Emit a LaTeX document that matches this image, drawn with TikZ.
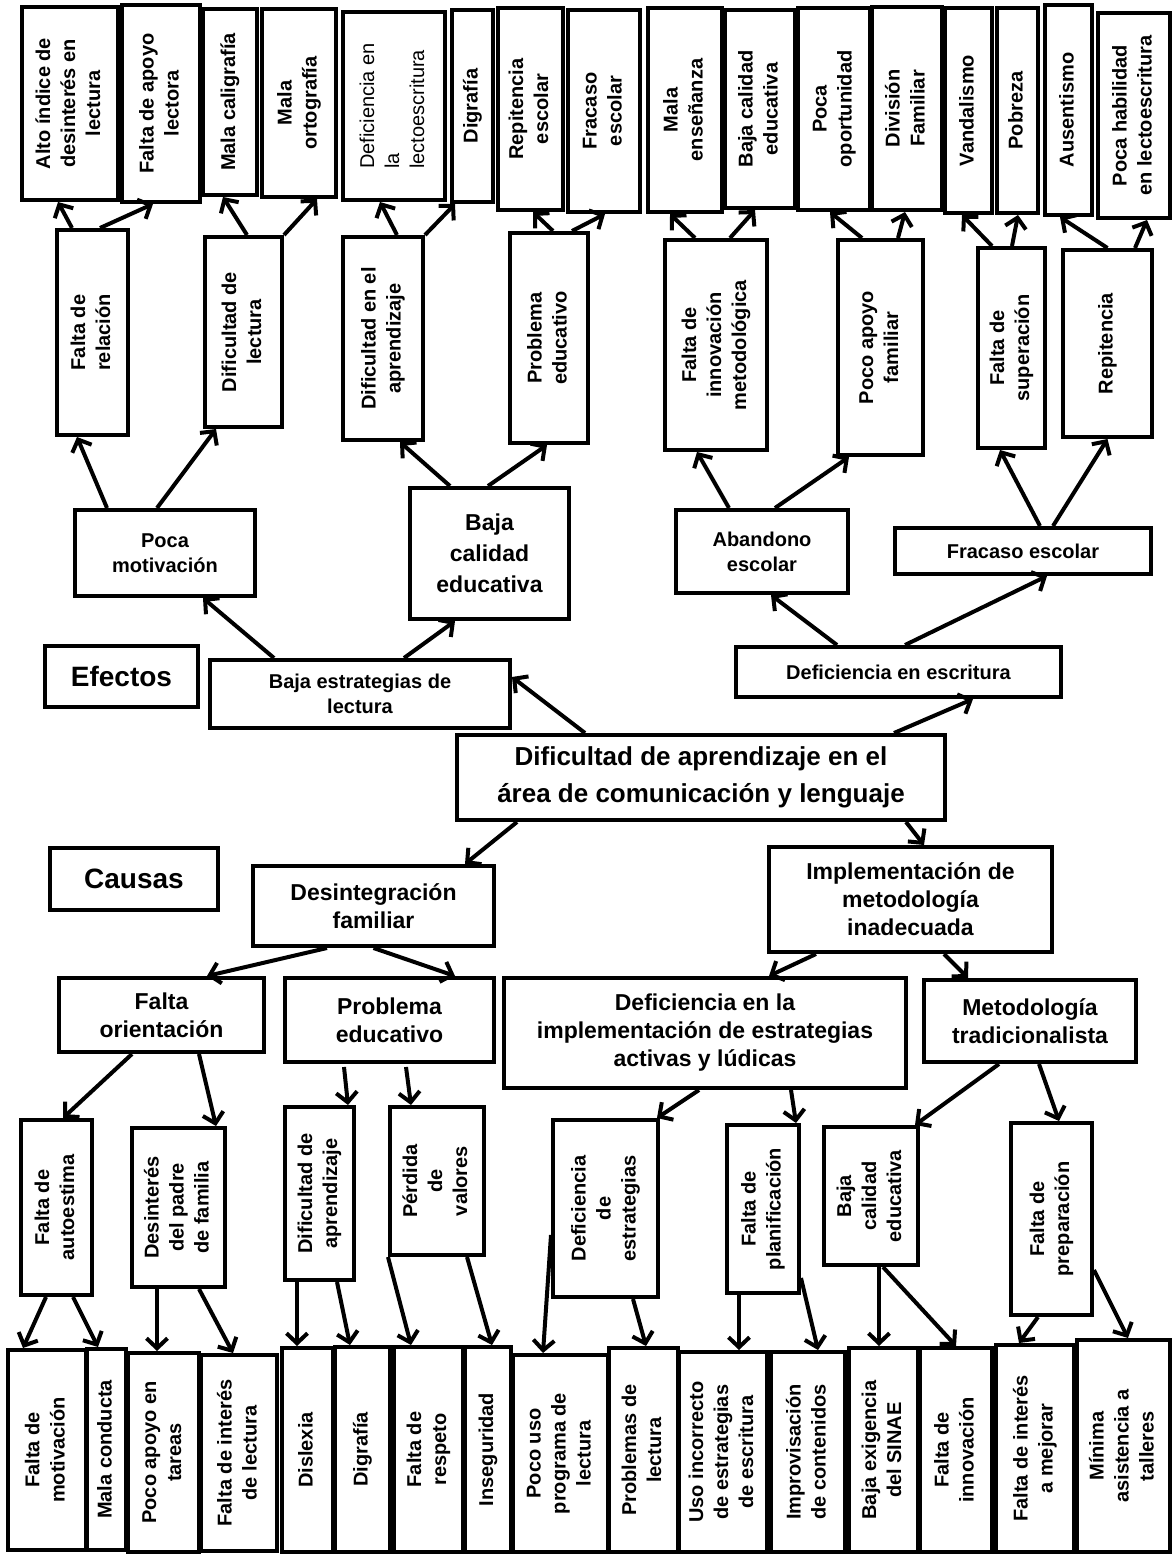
\documentclass[tikz,border=0pt]{standalone}
\usepackage{fontspec}
\setmainfont{Liberation Sans}
\usepackage{graphicx}
\usetikzlibrary{arrows.meta}

\tikzstyle{box}=[draw, line width=4pt, inner sep=0pt, align=center, font=\fontsize{20}{25}\selectfont\bfseries]
\tikzstyle{thinbox}=[box, font=\fontsize{20}{25}\selectfont\mdseries]
\tikzstyle{bigbox}=[box, font=\fontsize{23}{31}\selectfont\bfseries]
\tikzstyle{cbox}=[box, font=\fontsize{23}{28}\selectfont\bfseries]
\tikzstyle{root}=[box, font=\fontsize{26}{37}\selectfont\bfseries]
\tikzstyle{tag}=[box, font=\fontsize{28}{34}\selectfont\bfseries]
\tikzstyle{msg}=[-{Straight Barb[length=10pt, width=21pt]}, line width=4pt]

\newcommand{\vtxt}[1]{\rotatebox{90}{\begin{tabular}{@{}c@{}}#1\end{tabular}}}
\newcommand{\vtxtl}[1]{\rotatebox{90}{\begin{tabular}{@{}l@{}}#1\end{tabular}}}

\begin{document}
\begin{tikzpicture}[x=1pt, y=-1pt]
    \path[use as bounding box, fill=white] (0, 0) rectangle (1173, 1554);

    \node[box, minimum width=96pt, minimum height=193pt] (alto) at (70, 103.5) {\vtxt{Alto índice de\\desinterés en\\lectura}};
    \node[box, minimum width=78pt, minimum height=197pt] (apoyo) at (161, 103.5) {\vtxt{Falta de apoyo\\lectora}};
    \node[box, minimum width=54pt, minimum height=186pt] (caligrafia) at (230, 102) {\vtxt{Mala caligrafía}};
    \node[box, minimum width=74pt, minimum height=188pt] (ortografia) at (299, 103) {\vtxt{Mala\\ortografía}};
    \node[thinbox, minimum width=102pt, minimum height=188pt] (lectoesc) at (394, 106) {\vtxtl{Deficiencia en\\la\\lectoescritura}};
    \node[box, minimum width=41pt, minimum height=192pt] (digrafiaA) at (472.5, 106) {\vtxt{Digrafía}};
    \node[box, minimum width=65pt, minimum height=202pt] (repitenciaA) at (530.5, 109) {\vtxt{Repitencia\\escolar}};
    \node[box, minimum width=72pt, minimum height=202pt] (fracasoA) at (604, 111) {\vtxt{Fracaso\\escolar}};
    \node[box, minimum width=74pt, minimum height=204pt] (ensenanza) at (685, 110) {\vtxt{Mala\\enseñanza}};
    \node[box, minimum width=70pt, minimum height=198pt] (calidadA) at (760, 109) {\vtxt{Baja calidad\\educativa}};
    \node[box, minimum width=72pt, minimum height=202pt] (oportunidad) at (834, 109) {\vtxt{Poca\\oportunidad}};
    \node[box, minimum width=70pt, minimum height=203pt] (division) at (907, 108.5) {\vtxt{División\\Familiar}};
    \node[box, minimum width=47pt, minimum height=205pt] (vandalismo) at (968.5, 110.5) {\vtxt{Vandalismo}};
    \node[box, minimum width=41pt, minimum height=205pt] (pobreza) at (1017.5, 110.5) {\vtxt{Pobreza}};
    \node[box, minimum width=47pt, minimum height=210pt] (ausentismo) at (1068.5, 110) {\vtxt{Ausentismo}};
    \node[box, minimum width=72pt, minimum height=205pt] (habilidad) at (1134, 115.5) {\vtxt{Poca habilidad\\en lectoescritura}};

    \node[box, minimum width=71pt, minimum height=205pt] (relacion) at (92.5, 332.5) {\vtxt{Falta de\\relación}};
    \node[box, minimum width=77pt, minimum height=190pt] (diflectura) at (243.5, 332) {\vtxt{Dificultad de\\lectura}};
    \node[box, minimum width=80pt, minimum height=203pt] (difaprend) at (383, 338.5) {\vtxt{Dificultad en el\\aprendizaje}};
    \node[box, minimum width=78pt, minimum height=210pt] (probeduc) at (549, 338) {\vtxt{Problema\\educativo}};
    \node[box, minimum width=102pt, minimum height=210pt] (innovacion) at (716, 345) {\vtxt{Falta de\\innovación\\metodológica}};
    \node[box, minimum width=85pt, minimum height=215pt] (apoyofam) at (880.5, 347.5) {\vtxt{Poco apoyo\\familiar}};
    \node[box, minimum width=67pt, minimum height=200pt] (superacion) at (1011.5, 348) {\vtxt{Falta de\\superación}};
    \node[box, minimum width=89pt, minimum height=187pt] (repitencia) at (1107.5, 343.5) {\vtxt{Repitencia}};

    \node[box, minimum width=180pt, minimum height=86pt] (pocamot) at (165, 553) {Poca\\motivación};
    \node[bigbox, minimum width=159pt, minimum height=131pt] (calidad) at (489.5, 553.5) {Baja\\calidad\\educativa};
    \node[box, minimum width=172pt, minimum height=83pt] (abandono) at (762, 551.5) {Abandono\\escolar};
    \node[box, minimum width=256pt, minimum height=46pt] (fracaso) at (1023, 551) {Fracaso escolar};

    \node[tag, minimum width=153pt, minimum height=61pt] (efectos) at (121.5, 676.5) {Efectos};
    \node[box, minimum width=300pt, minimum height=68pt] (estrategias) at (360, 694) {Baja estrategias de\\lectura};
    \node[box, minimum width=325pt, minimum height=50pt] (escritura) at (898.5, 672) {Deficiencia en escritura};
    \node[root, minimum width=488pt, minimum height=85pt] (problema) at (701, 777.5) {Dificultad de aprendizaje en el\\área de comunicación y lenguaje};

    \node[tag, minimum width=168pt, minimum height=62pt] (causas) at (134, 879) {Causas};
    \node[cbox, minimum width=241pt, minimum height=80pt] (desint) at (373.5, 906) {Desintegración\\familiar};
    \node[cbox, minimum width=283pt, minimum height=105pt] (impl) at (910.5, 899.5) {Implementación de\\metodología\\inadecuada};
    \node[cbox, minimum width=205pt, minimum height=74pt] (orient) at (161.5, 1015) {Falta\\orientación};
    \node[cbox, minimum width=209pt, minimum height=84pt] (probcaus) at (389.5, 1020) {Problema\\educativo};
    \node[cbox, minimum width=402pt, minimum height=110pt] (defimpl) at (705, 1033) {Deficiencia en la\\implementación de estrategias\\activas y lúdicas};
    \node[cbox, minimum width=212pt, minimum height=82pt] (tradic) at (1030, 1021) {Metodología\\tradicionalista};

    \node[box, minimum width=71pt, minimum height=175pt] (autoestima) at (56.5, 1207.5) {\vtxt{Falta de\\autoestima}};
    \node[box, minimum width=93pt, minimum height=159pt] (desinteres) at (178.5, 1207.5) {\vtxt{Desinterés\\del padre\\de familia}};
    \node[box, minimum width=69pt, minimum height=173pt] (difaprendC) at (319.5, 1193.5) {\vtxt{Dificultad de\\aprendizaje}};
    \node[box, minimum width=94pt, minimum height=148pt] (perdida) at (437, 1181) {\vtxt{Pérdida\\de\\valores}};
    \node[box, minimum width=105pt, minimum height=177pt] (defestrat) at (605.5, 1208.5) {\vtxt{Deficiencia\\de\\estrategias}};
    \node[box, minimum width=72pt, minimum height=168pt] (planif) at (763, 1209) {\vtxt{Falta de\\planificación}};
    \node[box, minimum width=94pt, minimum height=138pt] (calidadC) at (871, 1196) {\vtxt{Baja\\calidad\\educativa}};
    \node[box, minimum width=81pt, minimum height=192pt] (preparacion) at (1051.5, 1219) {\vtxt{Falta de\\preparación}};

    \node[box, minimum width=78pt, minimum height=200pt] (motivacion) at (47, 1450) {\vtxt{Falta de\\motivación}};
    \node[box, minimum width=39pt, minimum height=201pt] (conducta) at (106.5, 1449.5) {\vtxt{Mala conducta}};
    \node[box, minimum width=71pt, minimum height=199pt] (tareas) at (163.5, 1452.5) {\vtxt{Poco apoyo en\\tareas}};
    \node[box, minimum width=76pt, minimum height=196pt] (interesL) at (239, 1453) {\vtxt{Falta de interés\\de lectura}};
    \node[box, minimum width=51pt, minimum height=204pt] (dislexia) at (307.5, 1450) {\vtxt{Dislexia}};
    \node[box, minimum width=55pt, minimum height=205pt] (digrafiaC) at (362.5, 1449.5) {\vtxt{Digrafía}};
    \node[box, minimum width=69pt, minimum height=205pt] (respeto) at (428.5, 1449.5) {\vtxt{Falta de\\respeto}};
    \node[box, minimum width=46pt, minimum height=205pt] (inseguridad) at (488, 1449.5) {\vtxt{Inseguridad}};
    \node[box, minimum width=95pt, minimum height=197pt] (programa) at (560.5, 1453.5) {\vtxt{Poco uso\\programa de\\lectura}};
    \node[box, minimum width=69pt, minimum height=204pt] (problemasL) at (643.5, 1450) {\vtxt{Problemas de\\lectura}};
    \node[box, minimum width=88pt, minimum height=200pt] (usoinc) at (723, 1452) {\vtxt{Uso incorrecto\\de estrategias\\de escritura}};
    \node[box, minimum width=74pt, minimum height=200pt] (improvis) at (808, 1452) {\vtxt{Improvisación\\de contenidos}};
    \node[box, minimum width=69pt, minimum height=204pt] (sinae) at (883.5, 1450) {\vtxt{Baja exigencia\\del SINAE}};
    \node[box, minimum width=72pt, minimum height=204pt] (innovC) at (956, 1450) {\vtxt{Falta de\\innovación}};
    \node[box, minimum width=78pt, minimum height=207pt] (mejorar) at (1035, 1448.5) {\vtxt{Falta de interés\\a mejorar}};
    \node[box, minimum width=93pt, minimum height=212pt] (talleres) at (1123.5, 1446) {\vtxt{Mínima\\asistencia a\\talleres}};

    \draw[msg] ([xshift=-20.5pt]relacion.north) to ([xshift=-12pt]alto.south);
    \draw[msg] ([xshift=7.5pt]relacion.north) to ([xshift=-8pt]apoyo.south);
    \draw[msg] ([xshift=3.5pt]diflectura.north) to ([xshift=-7pt]caligrafia.south);
    \draw[msg] (diflectura.north east) to ([xshift=18pt]ortografia.south);
    \draw[msg] ([xshift=14pt]difaprend.north) to ([xshift=-14pt]lectoesc.south);
    \draw[msg] (difaprend.north east) to ([xshift=-17.5pt]digrafiaA.south);
    \draw[msg] ([xshift=4pt]probeduc.north) to ([xshift=2.5pt]repitenciaA.south);
    \draw[msg] ([xshift=23pt]probeduc.north) to ([xshift=1pt]fracasoA.south);
    \draw[msg] ([xshift=-21pt]innovacion.north) to ([xshift=-15pt]ensenanza.south);
    \draw[msg] ([xshift=14pt]innovacion.north) to ([xshift=-5pt]calidadA.south);
    \draw[msg] ([xshift=-18.5pt]apoyofam.north) to ([xshift=-4pt]oportunidad.south);
    \draw[msg] ([xshift=17.5pt]apoyofam.north) to ([xshift=-2pt]division.south);
    \draw[msg] ([xshift=-19.5pt]superacion.north) to ([xshift=-6.5pt]vandalismo.south);
    \draw[msg] ([xshift=0.5pt]superacion.north) to ([xshift=0.5pt]pobreza.south);
    \draw[msg] (repitencia.north) to ([xshift=-8.5pt]ausentismo.south);
    \draw[msg] ([xshift=27.5pt]repitencia.north) to ([xshift=13pt]habilidad.south);

    \draw[msg] ([xshift=-58pt]pocamot.north) to ([xshift=-15.5pt]relacion.south);
    \draw[msg] ([xshift=-8pt]pocamot.north) to ([xshift=-27.5pt]diflectura.south);
    \draw[msg] ([xshift=-39.5pt]calidad.north) to ([xshift=17pt]difaprend.south);
    \draw[msg] ([xshift=-1.5pt]calidad.north) to ([xshift=-2pt]probeduc.south);
    \draw[msg] ([xshift=-33pt]abandono.north) to ([xshift=-19pt]innovacion.south);
    \draw[msg] ([xshift=13pt]abandono.north) to ([xshift=-31.5pt]apoyofam.south);
    \draw[msg] ([xshift=17pt]fracaso.north) to ([xshift=-11.5pt]superacion.south);
    \draw[msg] ([xshift=30pt]fracaso.north) to (repitencia.south);

    \draw[msg] ([xshift=-86pt]estrategias.north) to ([xshift=38pt]pocamot.south);
    \draw[msg] ([xshift=44pt]estrategias.north) to ([xshift=-34.5pt]calidad.south);
    \draw[msg] ([xshift=-61.5pt]escritura.north) to ([xshift=9pt]abandono.south);
    \draw[msg] ([xshift=6.5pt]escritura.north) to ([xshift=24pt]fracaso.south);
    \draw[msg] ([xshift=-116pt]problema.north) to ([yshift=17pt]estrategias.east);
    \draw[msg] ([xshift=193pt]problema.north) to ([xshift=74.5pt]escritura.south);

    \draw[msg] ([xshift=-184pt]problema.south) to ([xshift=91.5pt]desint.north);
    \draw[msg] ([xshift=205pt]problema.south) to ([xshift=13.5pt]impl.north);
    \draw[msg] ([xshift=-46.5pt]desint.south) to ([xshift=45.5pt]orient.north);
    \draw[msg] (desint.south) to ([xshift=65.5pt]probcaus.north);
    \draw[msg] ([xshift=-94.5pt]impl.south) to ([xshift=64pt]defimpl.north);
    \draw[msg] ([xshift=33.5pt]impl.south) to ([xshift=-62pt]tradic.north);

    \draw[msg] ([xshift=-29.5pt]orient.south) to ([xshift=6.5pt]autoestima.north);
    \draw[msg] ([xshift=37.5pt]orient.south) to ([xshift=37.5pt]desinteres.north);
    \draw[msg] ([xshift=-45.5pt, yshift=-3pt]probcaus.south) to ([xshift=28.5pt]difaprendC.north);
    \draw[msg] ([xshift=16.5pt, yshift=-3pt]probcaus.south) to ([xshift=-26pt]perdida.north);
    \draw[msg] ([xshift=-6pt]defimpl.south) to ([xshift=51.5pt]defestrat.north);
    \draw[msg] ([xshift=86pt]defimpl.south) to ([xshift=33pt]planif.north);
    \draw[msg] ([xshift=-31pt]tradic.south) to ([xshift=44pt]calidadC.north);
    \draw[msg] ([xshift=9pt]tradic.south) to ([xshift=7.5pt]preparacion.north);

    \draw[msg] ([xshift=-10.5pt]autoestima.south) to ([xshift=-24pt]motivacion.north);
    \draw[msg] ([xshift=16.5pt]autoestima.south) to ([xshift=-8.5pt]conducta.north);
    \draw[msg] ([xshift=-21.5pt]desinteres.south) to ([xshift=-6.5pt]tareas.north);
    \draw[msg] ([xshift=20.5pt]desinteres.south) to ([xshift=-6pt]interesL.north);
    \draw[msg] ([xshift=-22.5pt]difaprendC.south) to ([xshift=-10.5pt]dislexia.north);
    \draw[msg] ([xshift=17.5pt]difaprendC.south) to ([xshift=-12.5pt]digrafiaC.north);
    \draw[msg] (perdida.south west) to ([xshift=-17.5pt]respeto.north);
    \draw[msg] ([xshift=30pt]perdida.south) to ([xshift=4pt]inseguridad.north);
    \draw[msg] ([yshift=-26.5pt]defestrat.west) to ([xshift=-17.5pt]programa.north);
    \draw[msg] ([xshift=27.5pt]defestrat.south) to ([xshift=2.5pt]problemasL.north);
    \draw[msg] ([xshift=-24pt]planif.south) to ([xshift=16pt]usoinc.north);
    \draw[msg] ([yshift=-69pt]planif.east) to ([xshift=10pt]improvis.north);
    \draw[msg] ([xshift=8pt]calidadC.south) to ([xshift=-4.5pt]sinae.north);
    \draw[msg] ([xshift=12pt]calidadC.south) to (innovC.north);
    \draw[msg] ([xshift=-13.5pt]preparacion.south) to ([xshift=-16pt]mejorar.north);
    \draw[msg] ([yshift=-51pt]preparacion.east) to ([xshift=4.5pt]talleres.north);
  \end{tikzpicture}
\end{document}
